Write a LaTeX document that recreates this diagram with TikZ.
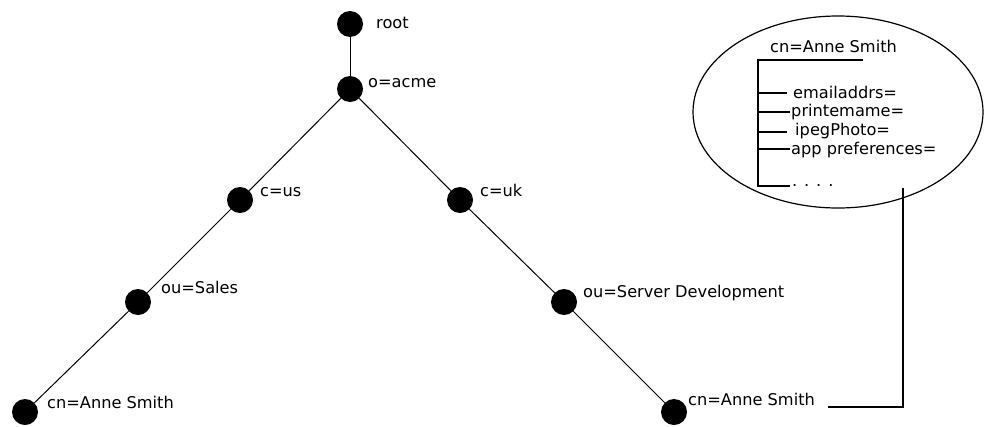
\documentclass[tikz,border=0pt]{standalone}
\usepackage{fontspec}
\setmainfont{DejaVu Sans}
\usetikzlibrary{shapes.geometric}
\begin{document}
\begin{tikzpicture}[x=1pt,y=-1pt,
  dot/.style={circle,fill=black,draw=none,minimum size=26pt,inner sep=0pt},
  lbl/.style={anchor=base west,inner sep=0pt,font=\fontsize{16.2pt}{18pt}\selectfont},
  edge/.style={draw=black,line width=1pt},
  brk/.style={draw=black,line width=1.6pt}]
\useasboundingbox (0,0) rectangle (984,426);
% tree nodes
\node[dot] (root) at (350,24) {};
\node[dot] (acme) at (350,89) {};
\node[dot] (us) at (240,200) {};
\node[dot] (uk) at (460,200) {};
\node[dot] (sales) at (138,302) {};
\node[dot] (srv) at (564,302) {};
\node[dot] (cnl) at (25,412) {};
\node[dot] (cnr) at (674,412) {};
% labels
\node[lbl] (troot) at (376,28) {root};
\node[lbl] (tacme) at (368,87) {o=acme};
\node[lbl] (tus) at (260,196) {c=us};
\node[lbl] (tuk) at (480,196) {c=uk};
\node[lbl] (tsales) at (161,293) {ou=Sales};
\node[lbl] (tsrv) at (583,297) {ou=Server Development};
\node[lbl] (tcnl) at (47,408) {cn=Anne Smith};
\node[lbl] (tcnr) at (688,405) {cn=Anne Smith};
% edges
\draw[edge] (root) -- (acme);
\draw[edge] (acme) -- (us);
\draw[edge] (us) -- (sales);
\draw[edge] (sales) -- (cnl);
\draw[edge] (acme) -- (uk);
\draw[edge] (uk) -- (srv);
\draw[edge] (srv) -- (cnr);
% entry ellipse
\node[draw=black,line width=1.2pt,ellipse,minimum width=290pt,minimum height=192pt,inner sep=0pt] (ell) at (838,112) {};
\node[lbl] (tent) at (770,52) {cn=Anne Smith};
\coordinate (vtop) at (758,60);
\coordinate (vbot) at (758,186);
\coordinate (htop) at (863,60);
\draw[brk] (htop) -- (vtop) -- (vbot) -- (790,186);
\node[lbl] (a1) at (793,98) {emailaddrs=};
\node[lbl] (a2) at (791,116) {printemame=};
\node[lbl] (a3) at (795,135) {ipegPhoto=};
\node[lbl] (a4) at (791,154) {app preferences=};
\node[lbl] (a5) at (792,186) {. . . .};
\draw[brk] (758,93) -- (787,93);
\draw[brk] (758,112) -- (790,112);
\draw[brk] (758,132) -- (787,132);
\draw[brk] (758,149) -- (790,149);
% connector from right cn to ellipse
\coordinate (cstart) at (828,407);
\coordinate (ccorner) at (903,407);
\coordinate (cend) at (903,188);
\draw[line width=1.4pt] (cstart) -- (ccorner) -- (cend);
\end{tikzpicture}
\end{document}
